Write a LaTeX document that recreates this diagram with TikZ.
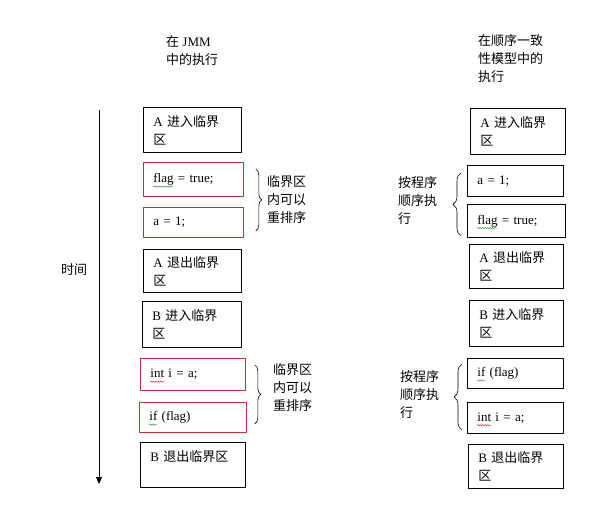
\documentclass[tikz,border=0pt]{standalone}
\usepackage{fontspec}
\setmainfont{Liberation Serif}
\newfontfamily\cjk{Noto Sans CJK SC}
\usetikzlibrary{arrows.meta, decorations.pathreplacing, decorations.pathmorphing}
\definecolor{boxred}{RGB}{190,50,50}
\definecolor{spellgreen}{RGB}{70,150,70}
\definecolor{spellred}{RGB}{220,50,50}

\begin{document}
\begin{tikzpicture}[x=1pt, y=-1pt, font=\fontsize{13}{18}\selectfont, line join=round, >={Stealth[length=7pt, width=6pt, inset=0pt]},
    box/.style={draw, line width=0.8pt, anchor=north west, align=left, inner xsep=10pt, inner ysep=0pt},
    redbox/.style={box, draw=boxred},
    note/.style={anchor=north west, align=left, inner sep=0pt},
    bracket/.style={decorate, decoration={brace, amplitude=#1}, line width=0.6pt},
    squiggle/.style={draw=#1, line width=0.5pt, decorate, decoration={snake, amplitude=0.7pt, segment length=2.5pt}}]
    \useasboundingbox (0,0) rectangle (611,507);

    % headers
    \node[note] (hjmm) at (166,35) {{\cjk 在} JMM\\{\cjk 中的执行}};
    \node[note] (hsc) at (478,34) {\cjk 在顺序一致\\\cjk 性模型中的\\\cjk 执行};

    % time axis
    \coordinate (tstart) at (99,110);
    \coordinate (tend) at (99,484);
    \draw[->, line width=0.8pt] (tstart) -- (tend);
    \node (time) at (74,270) {\cjk 时间};

    % execution in JMM
    \node[box, text width=78pt, minimum height=45pt] (L1) at (143,107) {A {\cjk 进入临界}\\{\cjk 区}};
    \node[redbox, text width=80pt, minimum height=34pt] (L2) at (143,162) {flag = true;};
    \node[redbox, text width=80pt, minimum height=30pt] (L3) at (143,207) {a = 1;};
    \node[box, text width=78pt, minimum height=43pt] (L4) at (143,249) {A {\cjk 退出临界}\\{\cjk 区}};
    \node[box, text width=79pt, minimum height=46pt] (L5) at (142,301) {B {\cjk 进入临界}\\{\cjk 区}};
    \node[redbox, text width=85pt, minimum height=32pt] (L6) at (140,358) {int i = a;};
    \node[redbox, text width=87pt, minimum height=30pt] (L7) at (139,402) {if (flag)};
    \node[box, text width=85pt, minimum height=45pt] (L8) at (140,442) {B {\cjk 退出临界区}\\\mbox{}};

    \draw[bracket=6pt] ([shift={(12,7)}]L2.north east) -- ([shift={(12,-7)}]L3.south east);
    \draw[bracket=6pt] ([shift={(9,7)}]L6.north east) -- ([shift={(8,-9)}]L7.south east);
    \node[note] (n1) at (267,175) {\cjk 临界区\\\cjk 内可以\\\cjk 重排序};
    \node[note] (n2) at (273,363) {\cjk 临界区\\\cjk 内可以\\\cjk 重排序};

    % execution in sequential consistency
    \node[box, text width=75pt, minimum height=46pt] (R1) at (470,108) {A {\cjk 进入临界}\\{\cjk 区}};
    \node[box, text width=76pt, minimum height=31pt] (R2) at (467,165) {a = 1;};
    \node[box, text width=78pt, minimum height=33pt] (R3) at (467,204) {flag = true;};
    \node[box, text width=74pt, minimum height=44pt] (R4) at (469,244) {A {\cjk 退出临界}\\{\cjk 区}};
    \node[box, text width=74pt, minimum height=46pt] (R5) at (469,300) {B {\cjk 进入临界}\\{\cjk 区}};
    \node[box, text width=76pt, minimum height=30pt] (R6) at (467,358) {if (flag)};
    \node[box, text width=76pt, minimum height=31pt] (R7) at (467,402) {int i = a;};
    \node[box, text width=75pt, minimum height=44pt] (R8) at (468,444) {B {\cjk 退出临界}\\{\cjk 区}};

    \draw[bracket=8pt] ([shift={(-6,-2)}]R3.south west) -- ([shift={(-6,8)}]R2.north west);
    \draw[bracket=8pt] ([shift={(-5,-4)}]R7.south west) -- ([shift={(-5,6)}]R6.north west);
    \node[note] (n3) at (398,176) {\cjk 按程序\\\cjk 顺序执\\\cjk 行};
    \node[note] (n4) at (400,370) {\cjk 按程序\\\cjk 顺序执\\\cjk 行};

    % spell check marks
    \foreach \nd/\len/\col in {L2/20/spellgreen, R3/20/spellgreen, L7/8/spellgreen, R6/8/spellgreen, L6/14/spellred, R7/14/spellred}
        \draw[squiggle=\col] ([shift={(10,4)}]\nd.base west) -- ++(\len,0);
\end{tikzpicture}
\end{document}
